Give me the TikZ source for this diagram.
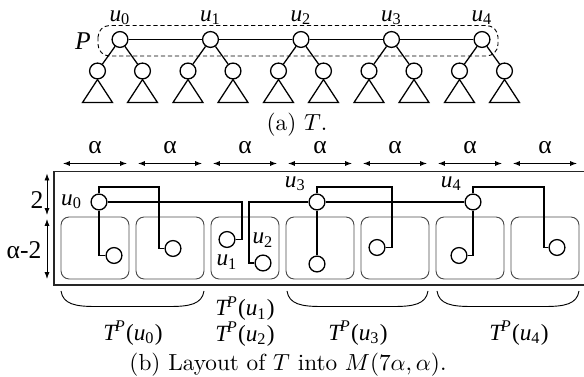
\documentclass[tikz,border=0pt]{standalone}
\usepackage{fontspec}
\newfontfamily\labelfont{Liberation Serif}
\usetikzlibrary{arrows.meta}
\newcommand\uu[1]{\textit{u}\textsubscript{#1}}
\newcommand\tp[1]{\textit{T}\kern-1.2pt\textsuperscript{\textit{P}}(\uu{#1})}

\tikzset{
  vtx/.style={circle, draw, fill=white, inner sep=0pt, minimum size=6.8pt},
  cell/.style={draw=black!70, line width=0.4pt, rounded corners=3.5pt},
  dim/.style={<->, >={Latex[length=3pt,width=2.2pt]}, line width=0.4pt},
  txt/.style={font=\labelfont},
  big/.style={font=\labelfont\fontsize{11}{13}\selectfont},
}

\begin{document}
\begin{tikzpicture}[x=0.43pt, y=-0.43pt, line width=0.55pt]
\useasboundingbox (0,0) rectangle (584,377);
% the tree T and its path P
\foreach \i in {0,...,4} {
  \node[vtx, label={[txt, label distance=-1pt]above:\uu{\i}}] (u\i) at ({120+90.5*\i},39.5) {};
  \node[vtx] (a\i) at ({97.5+90.5*\i},71) {};
  \node[vtx] (b\i) at ({142.5+90.5*\i},71) {};
  \draw (a\i) -- (u\i) -- (b\i);
  \draw (a\i.south) -- ++(-15,23) -- ++(30,0) -- cycle;
  \draw (b\i.south) -- ++(-15,23) -- ++(30,0) -- cycle;
}
\draw (u0) -- (u1) -- (u2) -- (u3) -- (u4);
\draw[dash pattern=on 1.8pt off 1.2pt, line width=0.4pt, rounded corners=5pt] (98,25.5) rectangle (498,56);
\node[font=\labelfont\itshape\fontsize{11}{13}\selectfont] (p) at (83,41.5) {P};
\node (capa) at (297,125) {(a) $T$.};

% the grid M(7a,a)
\foreach \k in {0,...,6} {
  \node[big] (al\k) at ({95+75*\k},148) {α};
  \draw[dim] ({63+75*\k},163.5) -- ({127+75*\k},163.5);
  \draw[cell] ({61+75*\k},217) rectangle ({129+75*\k},279);
}
\draw[black!85, line width=0.5pt] (54,171.5) rectangle (590,285);
\draw[dim] (47,173.5) -- (47,215);
\draw[dim] (47,219) -- (47,279);
\node[big] (two) at (37,200) {2};
\node[big] (am2) at (24,250.5) {α-2};

% vertices of T inside the grid
\node[vtx, label={[txt, label distance=0pt]left:\uu{0}}] (v0) at (99,202) {};
\node[vtx] (c0) at (114,255.5) {};
\node[vtx] (c1) at (173,248.5) {};
\node[vtx, label={[txt, label distance=-0.5pt]below:\uu{1}}] (v1) at (227,239.5) {};
\node[vtx, label={[txt, label distance=-0.5pt]above:\uu{2}}] (v2) at (263,263) {};
\node[vtx, label={[txt, label distance=-2pt]above left:\uu{3}}] (v3) at (317,202) {};
\node[vtx] (c3) at (317,264) {};
\node[vtx] (c4) at (377,247.5) {};
\node[vtx, label={[txt, label distance=-2pt]above left:\uu{4}}] (v4) at (473,202) {};
\node[vtx] (c5) at (459,255.5) {};
\node[vtx] (c6) at (557,247.5) {};

\draw (v0) |- (c0);
\draw (v0.north) |- ++(60,-6.5) |- (c1);
\draw (v0) -- ++(143,0) |- (v1);
\draw (v2) -- ++(-14,0) |- (v3);
\draw (v3) -- (c3);
\draw (v3.north) |- ++(75,-6.5) |- (c4);
\draw (v3) -- (v4);
\draw (v4) |- (c5);
\draw (v4.north) |- ++(71,-6.5) |- (c6);

% subtrees hanging off P
\foreach \l/\r in {61/204, 287/428, 437/579} {
  \draw[line width=0.4pt] (\l,291) .. controls (\l+2,304) and (\l+14,306.5) .. (\l+34,306.5)
    -- (\r-34,306.5) .. controls (\r-14,306.5) and (\r-2,304) .. (\r,291);
}
\node[txt] (tp0) at (133,333) {\tp{0}};
\node[txt, align=center] (tp12) at (245,321.5) {\tp{1}\\[-1pt]\tp{2}};
\node[txt] (tp3) at (358,333) {\tp{3}};
\node[txt] (tp4) at (519,333) {\tp{4}};
\node (capb) at (288,365) {(b) Layout of $T$ into $M(7\alpha,\alpha)$.};
\end{tikzpicture}
\end{document}
